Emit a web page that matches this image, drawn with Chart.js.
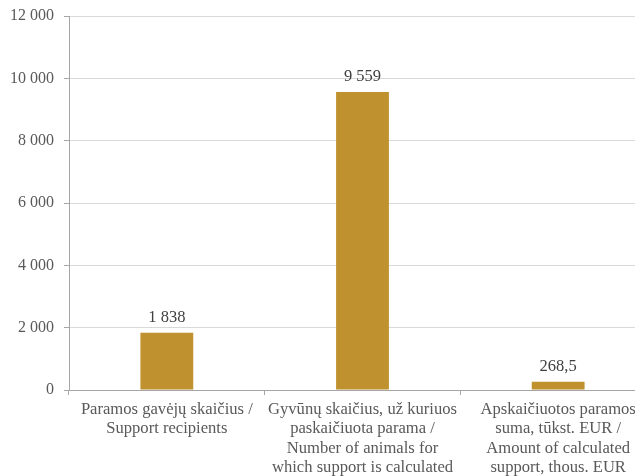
<!DOCTYPE html>
<html>
<head>
<meta charset="utf-8">
<script src="https://cdn.jsdelivr.net/npm/chart.js@4"></script>
<style>
    html, body { margin: 0; padding: 0; background: #fff; overflow: hidden; }
    #wrap { width: 635px; height: 476px; overflow: hidden; }
    #warm { position: absolute; left: -9999px; font: 16px "Liberation Serif"; }
</style>
</head>
<body>
<div id="warm">Paramos 12 000</div>
<div id="wrap"><canvas id="chart" width="656" height="476"></canvas></div>
<script>
// --- DATA ---
const categories = [
    ['Paramos gavėjų skaičius /', 'Support recipients'],
    ['Gyvūnų skaičius, už kuriuos', 'paskaičiuota parama /', 'Number of animals for', 'which support is calculated'],
    ['Apskaičiuotos paramos', 'suma, tūkst. EUR /', 'Amount of calculated', 'support, thous. EUR']
];
const values = [1838, 9559, 268.5];
const yTicks = [0, 2000, 4000, 6000, 8000, 10000, 12000];

const FONT = '"Liberation Serif", "Times New Roman", serif';
const TEXT = '#595959';

// 12 000 / 268,5 style numbers
function fmt(v) {
    const parts = String(v).split('.');
    const int = parts[0].replace(/\B(?=(\d{3})+(?!\d))/g, ' ');
    return parts.length > 1 ? int + ',' + parts[1] : int;
}

// value labels above the bars
const barLabels = {
    id: 'barLabels',
    afterDatasetsDraw(chart) {
        const ctx = chart.ctx;
        const meta = chart.getDatasetMeta(0);
        ctx.save();
        ctx.font = '16.5px ' + FONT;
        ctx.fillStyle = '#404040';
        ctx.textAlign = 'center';
        ctx.textBaseline = 'alphabetic';
        meta.data.forEach((bar, i) => {
            ctx.fillText(fmt(values[i]), bar.x, bar.y - 11);
        });
        ctx.restore();
    }
};

function draw() {
    new Chart(document.getElementById('chart'), {
        type: 'bar',
        data: {
            labels: categories,
            datasets: [{
                data: values,
                backgroundColor: '#C0922F',
                barPercentage: 0.27,
                categoryPercentage: 1
            }]
        },
        options: {
            responsive: false,
            devicePixelRatio: 1,
            animation: false,
            layout: { padding: { top: 16, right: 0, left: 0, bottom: 0 } },
            plugins: { legend: { display: false }, tooltip: { enabled: false } },
            scales: {
                x: {
                    grid: { offset: true, drawOnChartArea: false, tickLength: 5, tickColor: '#a6a6a6' },
                    border: { color: '#a6a6a6' },
                    ticks: { color: TEXT, font: { family: FONT, size: 16.6, lineHeight: 1.163 }, padding: 5, maxRotation: 0, autoSkip: false },
                    afterFit(scale) { scale.height = 86; scale.paddingLeft = 0; scale.paddingRight = 0; }
                },
                y: {
                    min: 0,
                    max: 12000,
                    afterBuildTicks(scale) { scale.ticks = yTicks.map(v => ({ value: v })); },
                    grid: { color: '#d9d9d9', tickLength: 5, tickColor: '#a6a6a6' },
                    border: { color: '#a6a6a6' },
                    ticks: { color: TEXT, font: { family: FONT, size: 16 }, padding: 10, callback: v => fmt(v) },
                    afterFit(scale) { scale.width = 69; scale.paddingTop = 0; scale.paddingBottom = 0; }
                }
            }
        },
        plugins: [barLabels]
    });
}

document.fonts.load('16px "Liberation Serif"').then(draw, draw);
</script>
</body>
</html>
